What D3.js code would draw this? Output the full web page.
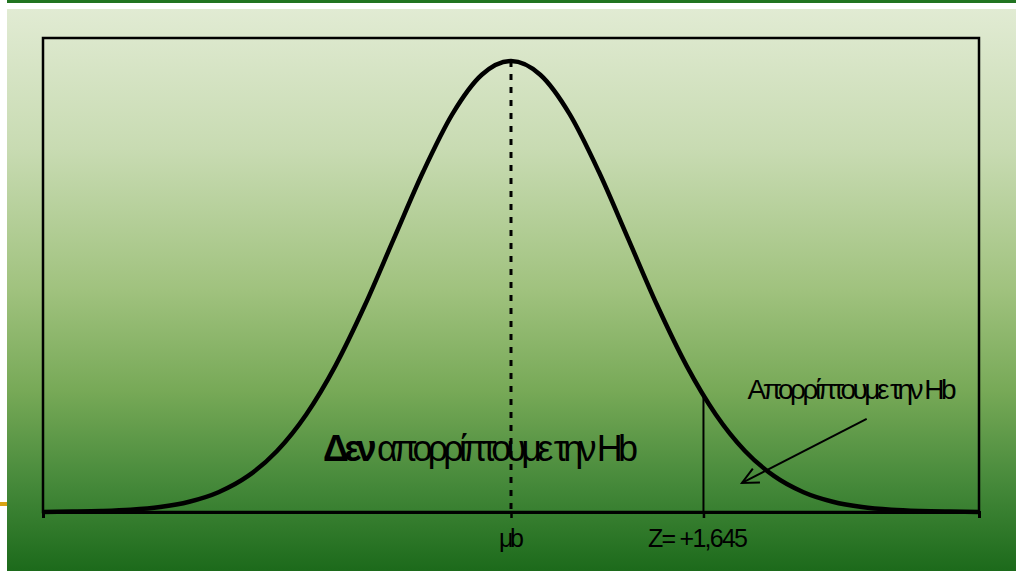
<!DOCTYPE html>
<html>
<head>
<meta charset="utf-8">
<script src="https://cdn.jsdelivr.net/npm/d3@7"></script>
<style>
  html, body { margin: 0; padding: 0; background: #ffffff; }
  svg { display: block; }
</style>
</head>
<body>
<svg id="chart" width="1016" height="571"></svg>
<script>
// ---- data ----
const zValues = [-4, -3.75, -3.5, -3.25, -3, -2.75, -2.5, -2.25, -2, -1.75, -1.5, -1.25, -1, -0.75, -0.5, -0.25,
                 0, 0.25, 0.5, 0.75, 1, 1.25, 1.5, 1.75, 2, 2.25, 2.5, 2.75, 3, 3.25, 3.5, 3.75, 4];
const densityValues = [0.0001, 0.0004, 0.0009, 0.0020, 0.0044, 0.0091, 0.0175, 0.0317, 0.0540, 0.0863, 0.1295, 0.1826, 0.2420, 0.3011, 0.3521, 0.3867,
                       0.3989, 0.3867, 0.3521, 0.3011, 0.2420, 0.1826, 0.1295, 0.0863, 0.0540, 0.0317, 0.0175, 0.0091, 0.0044, 0.0020, 0.0009, 0.0004, 0.0001];
const tickValues = [0, 1.645];
const tickLabels = ["μb", "Z= +1,645"];
const criticalZ = 1.645;
const criticalDensity = 0.1031;
const peakDensity = 0.3989;
const acceptLabel = { bold: "Δεν", rest: " απορρίπτουμε την Hb", z: -0.26, d: 0.0451 };
const rejectLabel = { text: "Απορρίπτουμε την Hb", z: 2.915, d: 0.0999 };
const arrowFrom = { z: 3.04, d: 0.0823 };
const arrowTo = { z: 1.974, d: 0.0257 };

// ---- layout ----
const W = 1016, H = 571;
const svg = d3.select("#chart");

const defs = svg.append("defs");
const grad = defs.append("linearGradient").attr("id", "bg").attr("x1", 0).attr("y1", 0).attr("x2", 0).attr("y2", 1);
[[0, "#e1ebd3"], [0.25, "#c8dbb2"], [0.5, "#a0c27e"], [0.68, "#77a957"], [0.85, "#448839"], [1, "#1c6a1b"]]
  .forEach(([o, c]) => grad.append("stop").attr("offset", o).attr("stop-color", c));

// top band, background panel, side mark
svg.append("rect").attr("x", 7).attr("y", 0).attr("width", W - 7).attr("height", 3).attr("fill", "#217421");
svg.append("rect").attr("x", 7).attr("y", 9).attr("width", W - 7).attr("height", H - 9).attr("fill", "url(#bg)");
svg.append("rect").attr("x", 0).attr("y", 502).attr("width", 7).attr("height", 4).attr("fill", "#d8a414");

// scales
const x = d3.scaleLinear().domain([-4, 4]).range([43, 979]);
const y = d3.scaleLinear().domain([0, peakDensity]).range([512, 61]);

// frame
svg.append("rect")
  .attr("x", x(-4)).attr("y", 38)
  .attr("width", x(4) - x(-4)).attr("height", y(0) - 38)
  .attr("fill", "none").attr("stroke", "#000").attr("stroke-width", 2.5);

// axis
const axis = d3.axisBottom(x)
  .tickValues(tickValues)
  .tickFormat((d, i) => tickLabels[i])
  .tickSizeInner(6).tickSizeOuter(6).tickPadding(6);
const gAxis = svg.append("g").attr("transform", `translate(0,${y(0)})`).call(axis);
gAxis.select(".domain").attr("stroke", "#000").attr("stroke-width", 3);
gAxis.selectAll(".tick line").attr("stroke", "#000").attr("stroke-width", 2.5);
gAxis.selectAll(".tick text")
  .attr("fill", "#000")
  .attr("font-family", "Liberation Sans, Arial, sans-serif")
  .attr("font-size", 25)
  .attr("dy", "0.9em")
  .each(function(d, i) {
    const t = d3.select(this);
    if (i === 0) { t.attr("textLength", 25).attr("lengthAdjust", "spacing"); }
    else { t.attr("textLength", 100).attr("lengthAdjust", "spacing").attr("dx", -6); }
  });

// dashed mean line
svg.append("line")
  .attr("x1", x(0)).attr("x2", x(0))
  .attr("y1", y(peakDensity)).attr("y2", y(0))
  .attr("stroke", "#000").attr("stroke-width", 3).attr("stroke-dasharray", "6,7");

// critical value line
svg.append("line")
  .attr("x1", x(criticalZ)).attr("x2", x(criticalZ))
  .attr("y1", y(criticalDensity)).attr("y2", y(0))
  .attr("stroke", "#000").attr("stroke-width", 2);

// normal curve
const line = d3.line().x((d, i) => x(zValues[i])).y(d => y(d)).curve(d3.curveMonotoneX);
svg.append("path")
  .attr("d", line(densityValues))
  .attr("fill", "none").attr("stroke", "#000").attr("stroke-width", 4.5)
  .attr("stroke-linejoin", "round");

// labels
const t1 = svg.append("text")
  .attr("x", x(acceptLabel.z)).attr("y", y(acceptLabel.d))
  .attr("text-anchor", "middle")
  .attr("font-family", "Liberation Sans, Arial, sans-serif")
  .attr("font-size", 36).attr("fill", "#000")
  .attr("textLength", 315).attr("lengthAdjust", "spacing");
t1.append("tspan").attr("font-weight", "bold").text(acceptLabel.bold);
t1.append("tspan").text(acceptLabel.rest);

svg.append("text")
  .attr("x", x(rejectLabel.z)).attr("y", y(rejectLabel.d))
  .attr("text-anchor", "middle")
  .attr("font-family", "Liberation Sans, Arial, sans-serif")
  .attr("font-size", 28).attr("fill", "#000")
  .attr("textLength", 209).attr("lengthAdjust", "spacing")
  .text(rejectLabel.text);

// arrow
const ax1 = x(arrowFrom.z), ay1 = y(arrowFrom.d), ax2 = x(arrowTo.z), ay2 = y(arrowTo.d);
svg.append("line")
  .attr("x1", ax1).attr("y1", ay1).attr("x2", ax2).attr("y2", ay2)
  .attr("stroke", "#000").attr("stroke-width", 2);
const ang = Math.atan2(ay1 - ay2, ax1 - ax2);
const headLen = 18, spread = 0.45;
const p1 = [ax2 + headLen * Math.cos(ang - spread), ay2 + headLen * Math.sin(ang - spread)];
const p2 = [ax2 + headLen * Math.cos(ang + spread), ay2 + headLen * Math.sin(ang + spread)];
svg.append("path")
  .attr("d", `M${p1[0]},${p1[1]}L${ax2},${ay2}L${p2[0]},${p2[1]}`)
  .attr("fill", "none").attr("stroke", "#000").attr("stroke-width", 2)
  .attr("stroke-linejoin", "miter");
</script>
</body>
</html>
